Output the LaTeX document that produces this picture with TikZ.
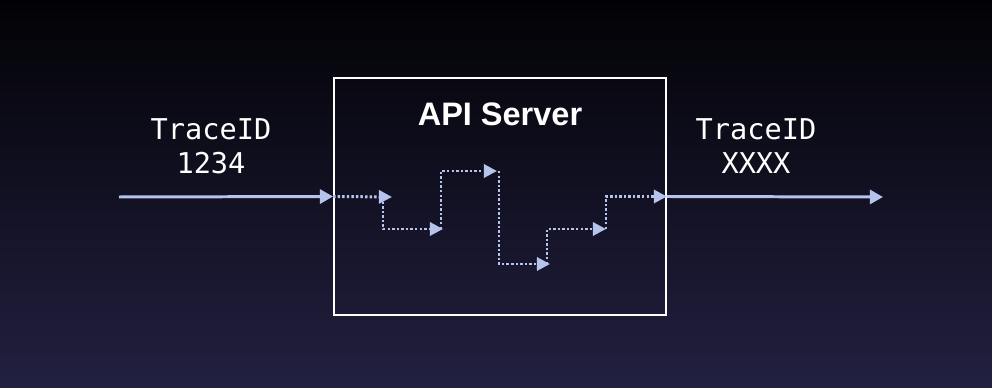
\documentclass[tikz,border=0pt]{standalone}
\usepackage{fontspec}
\setmainfont{Liberation Sans}
\newfontfamily\tracefont{DejaVu Sans Mono}
\usetikzlibrary{positioning, arrows.meta, calc}
\definecolor{bgtop}{RGB}{2,2,6}
\definecolor{bgmid}{RGB}{10,10,28}
\definecolor{bgbot}{RGB}{34,32,64}
\definecolor{flow}{RGB}{182,196,236}

\begin{document}
\begin{tikzpicture}[
    x=0.02cm, y=-0.02cm,
    server/.style={rectangle, draw=white, line width=1.1pt, inner sep=0pt,
                   minimum width=6.64cm, minimum height=4.74cm},
    traceid/.style={text=white, align=center, inner sep=0pt,
                    font=\tracefont\fontsize{16.3}{19.5}\selectfont},
    wire/.style={draw=flow, line width=1.7pt, -{Triangle[length=7.5pt, width=8pt]}},
    hop/.style={draw=flow, line width=1.7pt, dash pattern=on 1.4pt off 1.2pt,
                -{Triangle[length=7.5pt, width=7.5pt]}}
]
\shade[top color=bgtop, middle color=bgmid, bottom color=bgbot] (0,0) rectangle (992,388);
\useasboundingbox (0,0) rectangle (992,388);

\node[server] (srv) at (500,196.5) {};
\node[text=white, font=\bfseries\fontsize{18.5}{21}\selectfont] (title) at (500,114) {API Server};
\node[traceid] (idin) at (211,146) {TraceID\\1234};
\node[traceid] (idout) at (756,146) {TraceID\\XXXX};

\coordinate (src) at (119,197);
\coordinate (dst) at (883,197);
\draw[wire] (src) -- (srv.west);
\draw[wire] (srv.east) -- (dst);

% hops through the server
\coordinate (h1) at (392,197);
\coordinate (h2) at (443,229);
\coordinate (h3) at (497,171);
\coordinate (h4) at (550,264);
\coordinate (h5) at (606,229);
\draw[hop] (srv.west) -- (h1);
\draw[hop] ([xshift=-0.18cm]h1) |- (h2);
\draw[hop] ([xshift=-0.04cm]h2) |- (h3);
\draw[hop] ([xshift=0.04cm]h3) |- (h4);
\draw[hop] ([xshift=-0.06cm]h4) |- (h5);
\draw[hop] (h5) |- (srv.east);
\end{tikzpicture}
\end{document}
